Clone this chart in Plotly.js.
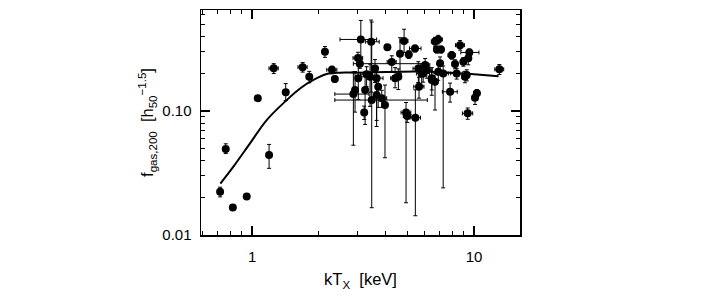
<!DOCTYPE html>
<html>
<head>
<meta charset="utf-8">
<script src="https://cdn.plot.ly/plotly-3.0.1.min.js"></script>
<style>html,body{margin:0;padding:0;background:#fff;}#chart{width:727px;height:304px;}</style>
</head>
<body>
<div id="chart"></div>
<script>
// Cluster temperature kT_X [keV] and gas fraction f_gas,200
const kT = [0.718,0.761,0.819,0.946,1.061,1.193,1.252,1.418,1.69,1.81,2.13,2.29,2.36,
  3.09,3.44,4.07,4.84,5.42,5.08,4.64,3.0,3.06,3.01,3.28,3.4,3.58,3.64,3.7,4.26,4.41,4.56,
  5.61,5.81,6.13,6.45,2.91,3.23,3.64,3.84,2.86,3.2,3.46,3.97,4.94,5.0,5.44,
  6.67,6.9,6.8,7.1,7.93,8.65,9.52,9.42,8.95,8.21,6.02,7.03,5.9,6.9,7.26,6.67,6.45,7.8,
  10.3,10.1,9.27,8.35,9.36,13.0,5.65,9.1];
const fgas = [0.0223,0.0494,0.0167,0.0204,0.127,0.0442,0.221,0.1415,0.226,0.189,0.301,0.215,0.181,
  0.378,0.362,0.327,0.367,0.32,0.286,0.29,0.268,0.241,0.184,0.198,0.189,0.22,0.184,0.157,0.249,0.184,0.189,
  0.22,0.201,0.214,0.184,0.148,0.148,0.135,0.127,0.137,0.0975,0.1226,0.112,0.0972,0.091,0.0883,
  0.363,0.378,0.314,0.314,0.282,0.34,0.297,0.266,0.25,0.239,0.235,0.243,0.201,0.207,0.201,0.172,0.178,0.143,
  0.139,0.128,0.195,0.201,0.0958,0.217,0.157,0.189];
const kTErrPlus = [0,0,0,0,0,0,0.06,0,0.08,0,0,0.12,0,
  0.55,0.3,0,0.2,0.35,0,0,0.15,3.0,0,0.2,0.3,0,0.25,0,0.2,0.2,0,
  0.3,0,0.35,0,0,0,0,0.2,0.5,0,2.7,0,0.25,0.2,0.3,
  0.25,0.3,0.2,0.2,0.3,0.4,1.0,0,0,0,0.3,0,0.4,0,0.4,0,0,0.6,
  0.3,0.3,0,0.5,0.5,0.6,0.3,0];
const kTErrMinus = [0,0,0,0,0,0,0.06,0,0.08,0,0,0.12,0,
  0.6,0.2,0,0.2,0.3,0,0,0.15,0.2,0,0.2,0.3,0,0.25,0,0.2,0.2,0,
  0.3,0,0.35,0,0,0,0,0.2,0.5,0,1.1,0,0.25,0.2,0.3,
  0.25,0.3,0.2,0.2,0.3,0.4,0.8,0,0,0,0.3,0,0.4,0,0.4,0,0,0.6,
  0.3,0.3,0,0.5,0.5,0.6,0.3,0];
const fErrPlus = [0.002,0.005,0,0,0,0.0096,0.02,0.025,0.02,0.02,0.03,0.015,0.01,
  0.16,0.18,0,0.09,0.02,0.02,0.1,0.03,0.02,0.05,0.03,0.05,0.04,0.04,0.03,0.03,0.04,0.03,
  0.03,0.03,0.03,0.04,0.06,0.05,0.05,0.02,0.07,0.012,0.4,0.05,0.02,0.01,0.06,
  0.03,0.03,0.02,0.02,0.02,0.03,0.02,0.03,0.02,0.02,0.03,0.03,0.03,0.03,0.03,0.03,0.03,0.025,
  0.01,0.015,0.02,0.02,0.01,0.02,0.03,0.02];
const fErrMinus = [0.002,0.004,0,0,0,0.0097,0.02,0.02,0.02,0.02,0.03,0.015,0.01,
  0.12,0.22,0,0.07,0.02,0.02,0.09,0.03,0.02,0.06,0.04,0.08,0.05,0.1,0.05,0.04,0.03,0.04,
  0.05,0.04,0.03,0.05,0.05,0.07,0.06,0.02,0.084,0.012,0.106,0.07,0.079,0.01,0.074,
  0.03,0.03,0.02,0.02,0.02,0.03,0.02,0.03,0.02,0.02,0.03,0.03,0.03,0.03,0.177,0.07,0.03,0.025,
  0.01,0.015,0.02,0.02,0.01,0.02,0.03,0.02];
// Model curve
const curveKT = [0.72,0.824,0.979,1.164,1.433,1.645,1.89,2.17,2.49,2.96,4.0,5.5,7.5,10.0,12.9];
const curveF = [0.026,0.0356,0.0549,0.0846,0.1226,0.152,0.178,0.199,0.204,0.204,0.206,0.208,0.205,0.198,0.191];
const xTickVals = [1,10];
const xTickText = ['1','10'];
const yTickVals = [0.01,0.1];
const yTickText = ['0.01','0.10'];
const xMinor = [0.6,0.7,0.8,0.9,2,3,4,5,6,7,8,9,20];
const yMinor = [0.02,0.03,0.04,0.05,0.06,0.07,0.08,0.09,0.2,0.3,0.4,0.5,0.6];

const font = {family:'Liberation Sans, Arial, sans-serif', size:15, color:'#000'};
const titleFont = {family:'Liberation Sans, Arial, sans-serif', size:16.5, color:'#000'};
const traces = [
  {x:curveKT, y:curveF, type:'scatter', mode:'lines', line:{color:'#000', width:2, shape:'spline'}, hoverinfo:'skip'},
  {x:kT, y:fgas, type:'scatter', mode:'markers',
   marker:{color:'#000', size:8},
   error_x:{type:'data', symmetric:false, array:kTErrPlus, arrayminus:kTErrMinus, color:'#000', thickness:1, width:2},
   error_y:{type:'data', symmetric:false, array:fErrPlus, arrayminus:fErrMinus, color:'#000', thickness:1, width:2}}
];
const axisCommon = {showline:true, linecolor:'#000', linewidth:1.5, mirror:'allticks', ticks:'inside', ticklen:9, tickwidth:1.2,
  tickcolor:'#000', showgrid:false, zeroline:false, tickfont:font, tickmode:'array'};
const layout = {
  width:727, height:304, paper_bgcolor:'#fff', plot_bgcolor:'#fff', showlegend:false,
  margin:{l:201, r:207, t:10, b:69},
  font:font,
  xaxis:Object.assign({}, axisCommon, {type:'log', range:[-0.23,1.207], tickvals:xTickVals, ticktext:xTickText,
    ticklabelstandoff:7,
    minor:{tickmode:'array', tickvals:xMinor, ticks:'inside', ticklen:4, tickcolor:'#000', tickwidth:1},
    title:{text:'kT<sub>X</sub>  [keV]', font:titleFont, standoff:10}}),
  yaxis:Object.assign({}, axisCommon, {type:'log', range:[-2,-0.185], tickvals:yTickVals, ticktext:yTickText,
    ticklabelstandoff:5,
    minor:{tickmode:'array', tickvals:yMinor, ticks:'inside', ticklen:4, tickcolor:'#000', tickwidth:1},
    title:{text:'f<sub>gas,200</sub>  [h<sub>50</sub><sup>−1.5</sup>]', font:titleFont, standoff:4}})
};
Plotly.newPlot('chart', traces, layout, {staticPlot:true, displayModeBar:false});
</script>
</body>
</html>
